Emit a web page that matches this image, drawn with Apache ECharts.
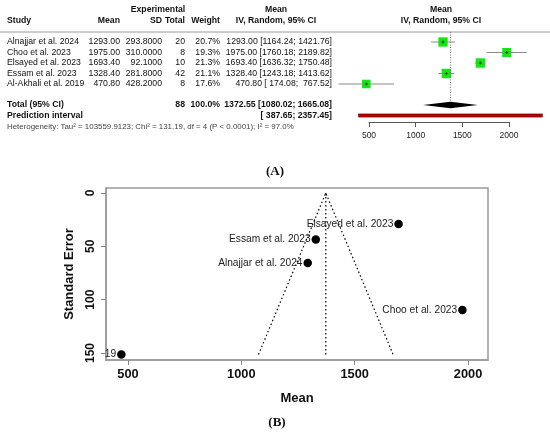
<!DOCTYPE html>
<html>
<head>
<meta charset="utf-8">
<script src="https://cdn.jsdelivr.net/npm/echarts@6/dist/echarts.min.js"></script>
<style>
  html, body { margin: 0; padding: 0; background: #fff; }
  #chart { width: 550px; height: 435px; }
</style>
</head>
<body>
<div id="chart"></div>
<script>
// study data
const studies = ['Alnajjar et al. 2024', 'Choo et al. 2023', 'Elsayed et al. 2023', 'Essam et al. 2023', 'Al-Akhali et al. 2019'];
const means = [1293.00, 1975.00, 1693.40, 1328.40, 470.80];
const sds = [293.8, 310.0, 92.1, 281.8, 428.2];
const totals = [20, 8, 10, 42, 8];
const weights = [20.7, 19.3, 21.3, 21.1, 17.6];
const ciLow = [1164.24, 1760.18, 1636.32, 1243.18, 174.08];
const ciHigh = [1421.76, 2189.82, 1750.48, 1413.62, 767.52];

// pooled estimate: mean, lower, upper
const pooled = [1372.55, 1080.02, 1665.08];
const predInterval = [387.65, 2357.45];
const heterogeneity = 'Heterogeneity: Tau\u00b2 = 103559.9123; Chi\u00b2 = 131.19, df = 4 (P < 0.0001); I\u00b2 = 97.0%';

// funnel plot
const stdErr = [65.7, 109.6, 29.1, 43.5, 151.4];
const funnelLabels = ['Alnajjar et al. 2024', 'Choo et al. 2023', 'Elsayed et al. 2023', 'Essam et al. 2023', '19'];
const funnelBase = [1075.8, 1669.3]; // dotted limits at the largest SE
const forestTicks = [500, 1000, 1500, 2000];
const funnelXTicks = [500, 1000, 1500, 2000];
const funnelYTicks = [0, 50, 100, 150];

const FONT = 'Liberation Sans, Arial, sans-serif';
const FS = 8.7;

const ciText = (m, lo, hi) =>
  m.toFixed(2) + ' [' + lo.toFixed(2).padStart(7, ' ') + '; ' + hi.toFixed(2).padStart(7, ' ') + ']';

const txt = (x, y, text, align, bold, size, color) => ({
  type: 'text', x: x, y: y, silent: true,
  style: {
    text: text, align: align, verticalAlign: 'middle',
    fontFamily: FONT, fontSize: size || FS, fontWeight: bold ? 'bold' : 'normal',
    fill: color || '#111'
  }
});

const plain = (v) => String(v);

const chart = echarts.init(document.getElementById('chart'));

const seMax = Math.max.apply(null, stdErr);
const weightSum = weights.reduce((a, b) => a + b, 0);
const nSum = totals.reduce((a, b) => a + b, 0);

chart.setOption({
  animation: false,
  grid: [
    // forest plot: 500..2000 on x, rows on y
    {left: 369, width: 140, top: 0, height: 122},
    // funnel plot
    {left: 106, top: 188, width: 382, height: 172, show: true,
      borderColor: '#9a9a9a', borderWidth: 1.5, backgroundColor: 'transparent'}
  ],
  xAxis: [
    {
      gridIndex: 0, type: 'value', min: 500, max: 2000, interval: 500,
      axisLine: {show: true, onZero: false, lineStyle: {color: '#555', width: 1}},
      axisTick: {show: true, length: 5, customValues: forestTicks, lineStyle: {color: '#555'}},
      axisLabel: {customValues: forestTicks, formatter: plain, fontFamily: FONT, fontSize: 8.5, color: '#222', margin: 9},
      splitLine: {show: false}
    },
    {
      gridIndex: 1, type: 'value', min: 403, max: 2088,
      axisLine: {show: true, onZero: false, lineStyle: {color: '#9a9a9a', width: 1.5}},
      axisTick: {show: true, length: 5, customValues: funnelXTicks, lineStyle: {color: '#888'}},
      axisLabel: {customValues: funnelXTicks, formatter: plain, fontFamily: FONT, fontSize: 12.8, fontWeight: 'bold', color: '#111', margin: 8},
      splitLine: {show: false},
      name: 'Mean', nameLocation: 'middle', nameGap: 32,
      nameTextStyle: {fontFamily: FONT, fontSize: 13, fontWeight: 'bold', color: '#111'}
    }
  ],
  yAxis: [
    {gridIndex: 0, type: 'value', inverse: true, min: -4, max: 7.619, show: false},
    {
      gridIndex: 1, type: 'value', inverse: true, min: -4.7, max: 156.6,
      axisLine: {show: true, onZero: false, lineStyle: {color: '#9a9a9a', width: 1.5}},
      axisTick: {show: true, length: 5, customValues: funnelYTicks, lineStyle: {color: '#888'}},
      axisLabel: {customValues: funnelYTicks, formatter: plain, rotate: 90, fontFamily: FONT, fontSize: 12, fontWeight: 'bold', color: '#111', margin: 9},
      splitLine: {show: false},
      name: 'Standard Error', nameLocation: 'middle', nameGap: 30,
      nameTextStyle: {fontFamily: FONT, fontSize: 13, fontWeight: 'bold', color: '#111'}
    }
  ],
  graphic: [
    {type: 'line', shape: {x1: 0, y1: 32, x2: 550, y2: 32}, style: {stroke: '#9a9a9a', lineWidth: 1}, silent: true},
    txt(158, 10, 'Experimental', 'center', true),
    txt(7, 21, 'Study', 'left', true),
    txt(120, 21, 'Mean', 'right', true),
    txt(162, 21, 'SD', 'right', true),
    txt(185, 21, 'Total', 'right', true),
    txt(220, 21, 'Weight', 'right', true),
    txt(276, 10, 'Mean', 'center', true),
    txt(276, 21, 'IV, Random, 95% CI', 'center', true),
    txt(441, 10, 'Mean', 'center', true),
    txt(441, 21, 'IV, Random, 95% CI', 'center', true),
    txt(7, 127, heterogeneity, 'left', false, 7.9, '#444'),
    {type: 'text', x: 275, y: 172, silent: true,
      style: {text: '(A)', align: 'center', verticalAlign: 'middle', fontFamily: 'Liberation Serif, serif', fontSize: 13, fontWeight: 'bold', fill: '#111'}},
    {type: 'text', x: 277, y: 423, silent: true,
      style: {text: '(B)', align: 'center', verticalAlign: 'middle', fontFamily: 'Liberation Serif, serif', fontSize: 13, fontWeight: 'bold', fill: '#111'}}
  ],
  series: [
    {
      // study rows: table text + CI line + weighted square
      type: 'custom', xAxisIndex: 0, yAxisIndex: 0, clip: false, silent: true,
      data: studies.map((s, i) => [means[i], i]),
      renderItem: function (params, api) {
        const i = params.dataIndex;
        const c = api.coord([means[i], i]);
        const y = c[1];
        const xl = api.coord([ciLow[i], i])[0];
        const xh = api.coord([ciHigh[i], i])[0];
        const s = 9.3 * Math.sqrt(weights[i] / 20.7);
        return {
          type: 'group',
          children: [
            {type: 'line', shape: {x1: xl, y1: y, x2: xh, y2: y}, style: {stroke: '#8a8a8a', lineWidth: 1}},
            {type: 'rect', shape: {x: c[0] - s / 2, y: y - s / 2, width: s, height: s}, style: {fill: '#14e614'}},
            {type: 'line', shape: {x1: c[0] - 1.5, y1: y, x2: c[0] + 1.5, y2: y}, style: {stroke: '#222', lineWidth: 0.8}},
            {type: 'line', shape: {x1: c[0], y1: y - 1.5, x2: c[0], y2: y + 1.5}, style: {stroke: '#222', lineWidth: 0.8}},
            txt(7, y, studies[i], 'left', false),
            txt(120, y, means[i].toFixed(2), 'right', false),
            txt(162, y, sds[i].toFixed(4), 'right', false),
            txt(185, y, String(totals[i]), 'right', false),
            txt(220, y, weights[i].toFixed(1) + '%', 'right', false),
            txt(332, y, ciText(means[i], ciLow[i], ciHigh[i]), 'right', false)
          ]
        };
      }
    },
    {
      // pooled estimate, prediction interval, reference line
      type: 'custom', xAxisIndex: 0, yAxisIndex: 0, clip: false, silent: true,
      data: [[pooled[0], 6]],
      renderItem: function (params, api) {
        const c = api.coord([pooled[0], 6]);
        const lo = api.coord([pooled[1], 6])[0];
        const hi = api.coord([pooled[2], 6])[0];
        const top = api.coord([pooled[0], -0.95])[1];
        const yp = api.coord([pooled[0], 7])[1];
        const pl = api.coord([predInterval[0], 7])[0];
        const ph = api.coord([predInterval[1], 7])[0];
        return {
          type: 'group',
          children: [
            {type: 'line', shape: {x1: c[0], y1: top, x2: c[0], y2: c[1] - 3}, style: {stroke: '#777', lineWidth: 1, lineDash: [1, 1.5]}},
            {type: 'polygon', shape: {points: [[lo, c[1]], [c[0], c[1] - 3.2], [hi, c[1]], [c[0], c[1] + 3.2]]}, style: {fill: '#000'}},
            {type: 'rect', shape: {x: pl, y: yp - 1.6, width: ph - pl, height: 3.2}, style: {fill: '#b80000', stroke: '#5a0000', lineWidth: 0.6}},
            txt(7, c[1], 'Total (95% CI)', 'left', true),
            txt(185, c[1], String(nSum), 'right', true),
            txt(220, c[1], weightSum.toFixed(1) + '%', 'right', true),
            txt(332, c[1], ciText(pooled[0], pooled[1], pooled[2]), 'right', true),
            txt(7, yp, 'Prediction interval', 'left', true),
            txt(332, yp, '[' + predInterval[0].toFixed(2).padStart(7, ' ') + '; ' + predInterval[1].toFixed(2) + ']', 'right', true)
          ]
        };
      }
    },
    {
      type: 'line', xAxisIndex: 1, yAxisIndex: 1, silent: true, symbol: 'none',
      lineStyle: {color: '#000', width: 1.2, type: [1.5, 2.5]},
      data: [[funnelBase[0], seMax], [pooled[0], 0], [funnelBase[1], seMax]]
    },
    {
      type: 'line', xAxisIndex: 1, yAxisIndex: 1, silent: true, symbol: 'none',
      lineStyle: {color: '#000', width: 1.2, type: [1.5, 2.5]},
      data: [[pooled[0], 0], [pooled[0], seMax]]
    },
    {
      type: 'scatter', xAxisIndex: 1, yAxisIndex: 1, silent: true,
      symbolSize: 8.5, itemStyle: {color: '#000', opacity: 1},
      data: means.map((m, i) => [m, stdErr[i]]),
      label: {
        show: true, position: 'left', distance: 1,
        formatter: (p) => funnelLabels[p.dataIndex],
        fontFamily: FONT, fontSize: 10.2, color: '#222'
      }
    }
  ]
});
</script>
</body>
</html>
